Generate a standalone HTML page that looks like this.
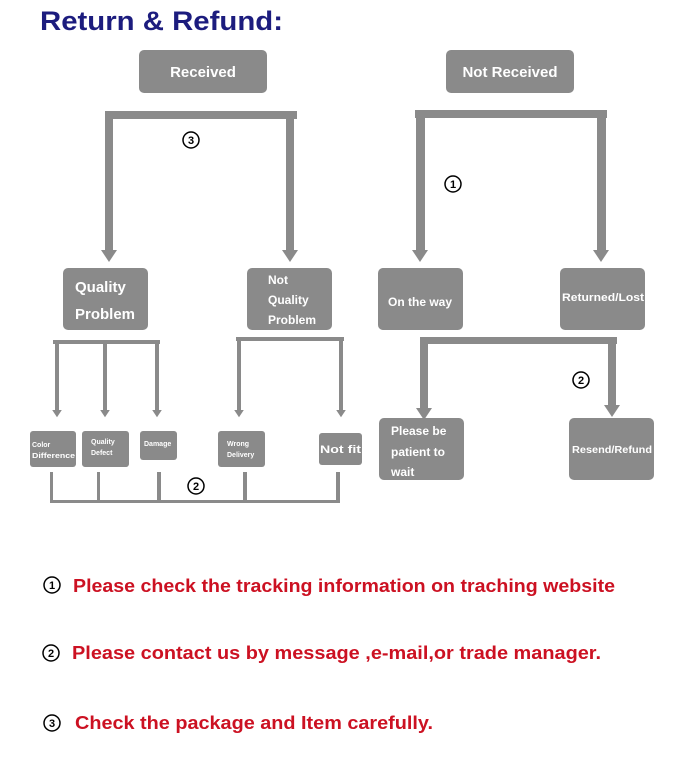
<!DOCTYPE html>
<html><head><meta charset="utf-8"><style>
html,body{margin:0;padding:0;background:#fff;}
svg{display:block;}
text{font-family:"Liberation Sans",sans-serif;}
</style></head><body>
<svg width="699" height="763" viewBox="0 0 699 763" xmlns="http://www.w3.org/2000/svg">
<defs>
<g id="ar"><polygon points="-8,0 8,0 0,12" fill="#8a8a8a"/></g>
</defs>
<text x="40" y="30" font-size="27" font-weight="bold" fill="#1c1c7e" textLength="243" lengthAdjust="spacingAndGlyphs">Return &amp; Refund:</text>

<g fill="#8a8a8a">
<!-- top boxes -->
<rect x="139" y="50" width="128" height="43" rx="5"/>
<rect x="446" y="50" width="128" height="43" rx="5"/>
<!-- left frame -->
<rect x="105" y="111" width="192" height="8"/>
<rect x="105" y="111" width="8" height="141"/>
<rect x="286" y="111" width="8" height="141"/>
<!-- right frame -->
<rect x="415" y="110" width="192" height="8"/>
<rect x="416" y="110" width="9" height="142"/>
<rect x="597" y="110" width="9" height="142"/>
<!-- level2 boxes -->
<rect x="63" y="268" width="85" height="62" rx="5"/>
<rect x="247" y="268" width="85" height="62" rx="5"/>
<rect x="378" y="268" width="85" height="62" rx="5"/>
<rect x="560" y="268" width="85" height="62" rx="5"/>
<!-- right lower -->
<rect x="420" y="337" width="197" height="7"/>
<rect x="420" y="337" width="8" height="72"/>
<rect x="608" y="337" width="8" height="72"/>
<rect x="379" y="418" width="85" height="62" rx="5"/>
<rect x="569" y="418" width="85" height="62" rx="5"/>
<!-- left lower brackets -->
<rect x="53" y="340" width="107" height="4"/>
<rect x="55" y="340" width="4" height="72"/>
<rect x="103" y="340" width="4" height="72"/>
<rect x="155" y="340" width="4" height="72"/>
<rect x="236" y="337" width="108" height="4"/>
<rect x="237" y="337" width="4" height="75"/>
<rect x="339" y="337" width="4" height="75"/>
<rect x="30" y="431" width="46" height="36" rx="3"/>
<rect x="82" y="431" width="47" height="36" rx="3"/>
<rect x="140" y="431" width="37" height="29" rx="3"/>
<rect x="218" y="431" width="47" height="36" rx="3"/>
<rect x="319" y="433" width="43" height="32" rx="3"/>
<!-- bottom bracket -->
<rect x="50" y="500" width="290" height="3"/>
<rect x="50" y="472" width="3" height="31"/>
<rect x="97" y="472" width="3" height="31"/>
<rect x="157" y="472" width="4" height="31"/>
<rect x="243" y="472" width="4" height="31"/>
<rect x="336" y="472" width="4" height="31"/>
</g>
<use href="#ar" x="109" y="250"/><use href="#ar" x="290" y="250"/>
<use href="#ar" x="420" y="250"/><use href="#ar" x="601" y="250"/>
<use href="#ar" x="424" y="408"/><use href="#ar" x="612" y="405"/>
<g transform="translate(57,410) scale(0.6)"><polygon points="-8,0 8,0 0,12" fill="#8a8a8a"/></g>
<g transform="translate(105,410) scale(0.6)"><polygon points="-8,0 8,0 0,12" fill="#8a8a8a"/></g>
<g transform="translate(157,410) scale(0.6)"><polygon points="-8,0 8,0 0,12" fill="#8a8a8a"/></g>
<g transform="translate(239,410) scale(0.6)"><polygon points="-8,0 8,0 0,12" fill="#8a8a8a"/></g>
<g transform="translate(341,410) scale(0.6)"><polygon points="-8,0 8,0 0,12" fill="#8a8a8a"/></g>

<g fill="#fff" font-weight="bold">
<text x="203" y="77" font-size="15" text-anchor="middle">Received</text>
<text x="510" y="77" font-size="15" text-anchor="middle">Not Received</text>
<text x="75" y="292" font-size="15">Quality</text>
<text x="75" y="319" font-size="15">Problem</text>
<text x="268" y="284" font-size="12">Not</text>
<text x="268" y="304" font-size="12">Quality</text>
<text x="268" y="324" font-size="12">Problem</text>
<text x="388" y="306" font-size="12">On the way</text>
<text x="562" y="301" font-size="11" textLength="82" lengthAdjust="spacingAndGlyphs">Returned/Lost</text>
<text x="391" y="435" font-size="12">Please be</text>
<text x="391" y="456" font-size="12">patient to</text>
<text x="391" y="476" font-size="12">wait</text>
<text x="572" y="453" font-size="10.5" textLength="80" lengthAdjust="spacingAndGlyphs">Resend/Refund</text>
<text x="32" y="447" font-size="7">Color</text>
<text x="32" y="458" font-size="7" textLength="43" lengthAdjust="spacingAndGlyphs">Difference</text>
<text x="91" y="444" font-size="7">Quality</text>
<text x="91" y="455" font-size="7">Defect</text>
<text x="144" y="446" font-size="7">Damage</text>
<text x="227" y="446" font-size="7">Wrong</text>
<text x="227" y="457" font-size="7">Delivery</text>
<text x="320" y="453" font-size="11" textLength="41" lengthAdjust="spacingAndGlyphs">Not fit</text>
</g>

<g fill="none" stroke="#000" stroke-width="1.5">
<circle cx="191" cy="140" r="8"/><circle cx="453" cy="184" r="8"/>
<circle cx="581" cy="380" r="8"/><circle cx="196" cy="486" r="8"/>
<circle cx="52" cy="585" r="8"/><circle cx="51" cy="653" r="8"/><circle cx="52" cy="723" r="8"/>
</g>
<g font-size="11" font-weight="bold" text-anchor="middle" fill="#000">
<text x="191" y="144">3</text><text x="453" y="188">1</text>
<text x="581" y="384">2</text><text x="196" y="490">2</text>
<text x="52" y="589">1</text><text x="51" y="657">2</text><text x="52" y="727">3</text>
</g>
<g fill="#cc1122" font-size="18" font-weight="bold">
<text x="73" y="592" textLength="542" lengthAdjust="spacingAndGlyphs">Please check the tracking information on traching website</text>
<text x="72" y="659" textLength="529" lengthAdjust="spacingAndGlyphs">Please contact us by message ,e-mail,or trade manager.</text>
<text x="75" y="729" textLength="358" lengthAdjust="spacingAndGlyphs">Check the package and Item carefully.</text>
</g>
</svg>
</body></html>
